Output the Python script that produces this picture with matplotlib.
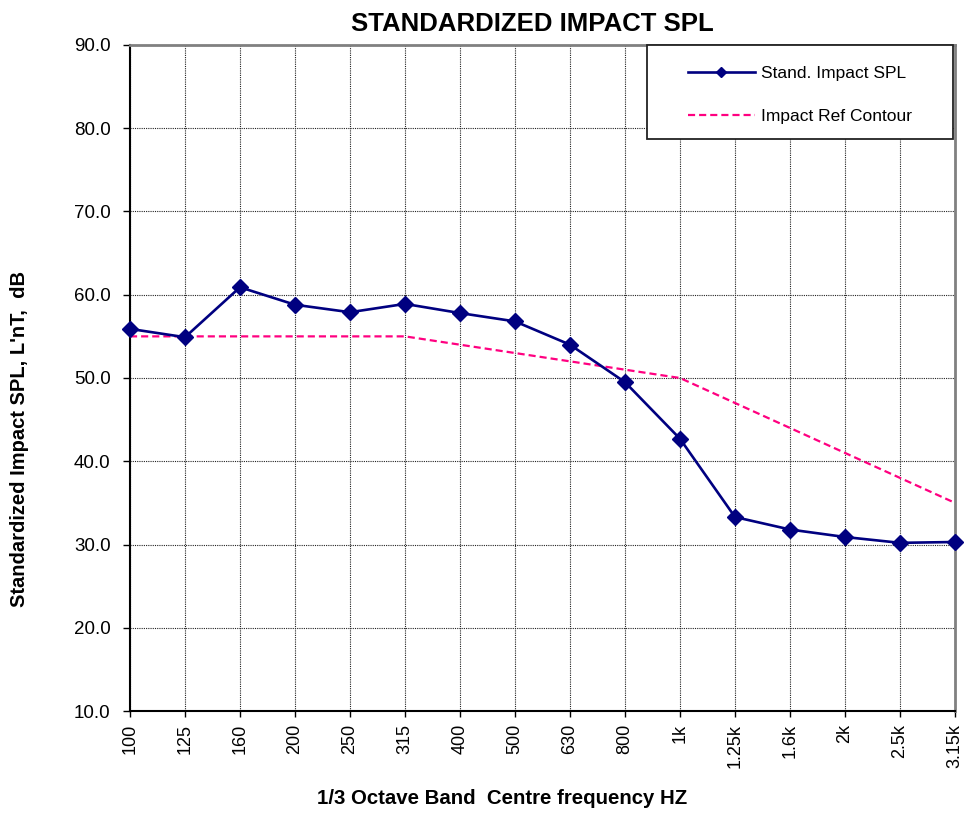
import matplotlib
matplotlib.use("Agg")
import matplotlib.pyplot as plt
from matplotlib.patches import Rectangle

categories = ["100", "125", "160", "200", "250", "315", "400", "500", "630",
              "800", "1k", "1.25k", "1.6k", "2k", "2.5k", "3.15k"]
spl = [55.9, 54.9, 60.9, 58.8, 57.9, 58.9, 57.8, 56.8, 54.0,
       49.5, 42.7, 33.3, 31.8, 30.9, 30.2, 30.3]
ref = [55, 55, 55, 55, 55, 55, 54, 53, 52, 51, 50, 47, 44, 41, 38, 35]
yticks = [10, 20, 30, 40, 50, 60, 70, 80, 90]

plt.rcParams['font.family'] = ['Liberation Sans', 'DejaVu Sans']

W, H = 966, 814
fig = plt.figure(figsize=(W / 100, H / 100), dpi=100)
L, R, T, B = 130, 955, 45, 711
ax = fig.add_axes([L / W, 1 - B / H, (R - L) / W, (B - T) / H])

def ax_x(px):
    return (px - L) / (R - L)

def ax_y(py):
    return (B - py) / (B - T)

x = list(range(len(categories)))
ax.plot(x, spl, color='#000080', lw=1.9, marker='D', ms=8.5, zorder=4,
        label='Stand. Impact SPL', clip_on=False)
ax.plot(x, ref, color='#FF0080', lw=1.6, ls=(0, (3.2, 1.8)), zorder=3,
        label='Impact Ref Contour', clip_on=False)

ax.set_xlim(0, len(categories) - 1)
ax.set_ylim(10, 90)
ax.set_xticks(x)
ax.set_xticklabels(categories, rotation=90, fontsize=13)
ax.set_yticks(yticks)
ax.set_yticklabels([f"{v:.1f}" for v in yticks], fontsize=13.5)
ax.tick_params(axis='x', direction='out', length=4, width=1, colors='black', pad=5)
ax.tick_params(axis='y', direction='out', length=5, width=1, colors='black', pad=9)

ax.grid(True, color='#222222', ls=(0, (1, 1)), lw=0.8)
ax.set_axisbelow(True)

for s in ['left', 'bottom']:
    ax.spines[s].set_color('black')
    ax.spines[s].set_linewidth(1.5)
for s in ['top', 'right']:
    ax.spines[s].set_color('#808080')
    ax.spines[s].set_linewidth(2)

ax.set_title('STANDARDIZED IMPACT SPL', fontsize=18.5, fontweight='bold', pad=10,
             x=ax_x(532))
ax.set_xlabel('1/3 Octave Band  Centre frequency HZ', fontsize=14.7, fontweight='bold')
ax.xaxis.set_label_coords(ax_x(502.5), ax_y(789))
ax.set_ylabel("Standardized Impact SPL, L'nT,  dB", fontsize=14.5, fontweight='bold',
              va='center')
ax.yaxis.set_label_coords(ax_x(20), ax_y(439))

# legend frame
box = Rectangle((ax_x(647), ax_y(139)), ax_x(953) - ax_x(647), ax_y(45) - ax_y(139),
                transform=ax.transAxes, facecolor='white', edgecolor='#222222',
                lw=1.3, zorder=9, clip_on=False)
ax.add_patch(box)
leg = ax.legend(loc='center', bbox_to_anchor=(ax_x(800), ax_y(95)), fontsize=12.5,
                frameon=False, labelspacing=1.6, handlelength=3.86,
                handletextpad=0.35, markerscale=0.6, borderpad=0)
leg.set_zorder(10)

fig.savefig('out.png', dpi=100)
